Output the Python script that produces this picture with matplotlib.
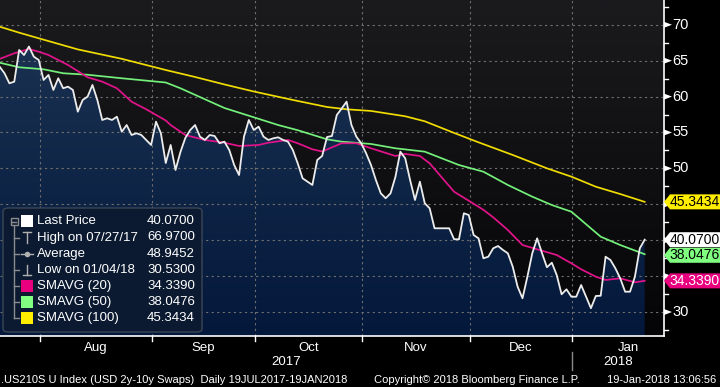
import numpy as np
import pandas as pd
import matplotlib
matplotlib.use("Agg")
import matplotlib.pyplot as plt
from matplotlib.patches import Polygon, FancyBboxPatch, Rectangle
from matplotlib.lines import Line2D
from matplotlib.colors import LinearSegmentedColormap

# ---------------- data ----------------
start_date = "2017-07-19"
end_date = "2018-01-19"

last_price = [
    64.16, 63.25, 61.85, 62.08, 66.49, 65.79, 66.97, 65.56, 65.10, 62.31,
    63.01, 60.92, 62.55, 61.16, 61.38, 60.92, 57.90, 59.53, 59.99, 61.62,
    59.53, 56.74, 56.98, 56.74, 57.20, 55.11, 56.04, 54.65, 54.89, 54.65,
    53.96, 53.26, 56.50, 54.89, 50.75, 53.26, 49.78, 52.28, 54.23, 55.34,
    56.04, 54.42, 53.96, 54.65, 54.51, 53.50, 53.72, 52.56, 50.47, 49.08,
    54.42, 56.74, 55.35, 55.81, 54.42, 53.96, 54.19, 54.33, 53.96, 53.72,
    52.56, 50.71, 48.62, 48.15, 47.69, 51.17, 51.73, 54.37, 54.51, 57.44,
    58.34, 59.29, 56.04, 54.42, 53.50, 52.10, 50.47, 48.38, 46.53, 45.84,
    46.53, 48.84, 52.33, 51.41, 48.38, 45.60, 48.15, 45.14, 44.44, 41.66,
    41.66, 41.66, 41.66, 40.13, 40.13, 43.75, 43.51, 40.72, 40.26, 37.48,
    37.70, 38.87, 39.19, 38.64, 38.18, 36.31, 33.52, 31.91, 34.92, 38.18,
    40.26, 38.18, 36.23, 36.87, 35.15, 32.47, 33.16, 32.13, 32.13, 33.76,
    32.13, 30.53, 32.23, 32.27, 37.70, 37.24, 36.09, 34.69, 32.83, 32.83,
    34.92, 38.87, 40.07,
]

sma20_days = [0, 3, 6, 8, 10, 14, 18, 21, 24, 27, 30, 34, 35, 38, 42, 46, 49, 53, 55, 59,
              61, 64, 66, 70, 73, 76, 81, 83, 86, 88, 93, 96, 99, 101, 104, 107, 110, 114,
              117, 119, 122, 124, 127, 130, 132]
sma20_vals = [65.24, 66.03, 66.63, 66.25, 65.79, 64.40, 62.69, 62.08, 61.16, 59.29, 58.23,
              56.67, 56.04, 54.65, 53.96, 53.58, 53.12, 53.26, 53.58, 53.96, 53.50, 52.66,
              52.35, 53.50, 53.50, 52.80, 51.73, 52.01, 51.73, 50.71, 46.75, 45.50, 44.23,
              43.19, 41.42, 39.33, 38.73, 37.94, 36.78, 35.95, 34.92, 34.46, 34.69, 34.14,
              34.34]

sma50_days = [0, 4, 9, 13, 18, 25, 34, 37, 42, 46, 52, 57, 61, 67, 70, 76, 81, 87, 94, 99,
              104, 109, 113, 117, 123, 127, 132]
sma50_vals = [64.72, 64.08, 63.80, 63.25, 63.04, 62.55, 61.96, 61.16, 59.63, 58.41, 57.12,
              56.04, 55.32, 54.05, 53.72, 53.40, 52.80, 52.33, 50.47, 49.54, 47.69, 46.06,
              44.90, 43.97, 40.49, 39.33, 38.05]

sma100_days = [0, 4, 8, 16, 25, 34, 40, 46, 52, 60, 67, 71, 76, 83, 87, 93, 98, 105, 112,
               117, 122, 127, 132]
sma100_vals = [69.74, 68.90, 68.12, 66.57, 65.26, 63.70, 62.73, 61.69, 60.71, 59.53, 58.55,
               58.23, 58.00, 57.26, 56.56, 54.94, 53.63, 51.87, 50.01, 48.85, 47.45, 46.43,
               45.34]

month_labels = ["Aug", "Sep", "Oct", "Nov", "Dec", "Jan"]
month_starts = ["2017-08-01", "2017-09-01", "2017-10-01", "2017-11-01", "2017-12-01", "2018-01-01"]
year_labels = ["2017", "2018"]
y_ticks = [30, 35, 40, 45, 50, 55, 60, 65, 70]

legend_rows = [
    ("Last Price", "40.0700"),
    ("High on 07/27/17", "66.9700"),
    ("Average", "48.9452"),
    ("Low on 01/04/18", "30.5300"),
    ("SMAVG (20)", "34.3390"),
    ("SMAVG (50)", "38.0476"),
    ("SMAVG (100)", "45.3434"),
]
footer_left = ".US210S U Index (USD 2y-10y Swaps)  Daily 19JUL2017-19JAN2018"
footer_mid = "Copyright\u00a9 2018 Bloomberg Finance L.P."
footer_right = "19-Jan-2018 13:06:56"

# ---------------- styling ----------------
W, H = 720, 387
C_WHITE = "#ececec"
C_MAG = "#e2138a"
C_GREEN = "#74f07a"
C_YEL = "#f0dc00"
C_TAG_GREEN = "#80ff80"
C_TAG_MAG = "#e8007f"
C_TAG_YEL = "#ffee00"
GRID = "#707070"

plt.rcParams["font.family"] = ["Liberation Sans", "DejaVu Sans"]

fig = plt.figure(figsize=(W / 100, H / 100), dpi=100, facecolor="black")

def fx(px):
    return px / W

def fy(py):
    return 1 - py / H

ax_left, ax_right, ax_top, ax_bottom = 0, 663, 0, 336
ax = fig.add_axes([fx(ax_left), fy(ax_bottom), fx(ax_right - ax_left), (ax_bottom - ax_top) / H])
ax.set_facecolor("black")

n = len(last_price)
x = np.arange(n)
xlim = (0.08, 135.75)
ylim = (26.66, 73.45)
ax.set_xlim(*xlim)
ax.set_ylim(*ylim)

# background gradient
bg = np.linspace(0, 1, 256).reshape(-1, 1)
cmap_bg = LinearSegmentedColormap.from_list("bg", ["#1b1b1e", "#050507"])
ax.imshow(bg, extent=[xlim[0], xlim[1], ylim[0], ylim[1]], aspect="auto",
          cmap=cmap_bg, zorder=0, origin="upper")

# fill gradient under price line
fill = ax.fill_between(x, last_price, ylim[0], facecolor="none", edgecolor="none", zorder=1)
cmap_fill = LinearSegmentedColormap.from_list("fl", ["#1a3152", "#03183a"])
im = ax.imshow(bg, extent=[xlim[0], xlim[1], ylim[0], 67.5], aspect="auto",
               cmap=cmap_fill, zorder=1, origin="upper")
im.set_clip_path(fill.get_paths()[0], transform=ax.transData)

# grid
cal_full = pd.bdate_range(start_date, "2018-01-31")
bounds = [int(cal_full.searchsorted(pd.Timestamp(d))) - 0.8 for d in month_starts]
for b in bounds:
    ax.axvline(b, color=GRID, lw=0.8, ls=(0, (2, 3)), zorder=2)
for t in y_ticks:
    ax.axhline(t, color=GRID, lw=0.8, ls=(0, (2, 3)), zorder=2)

# lines
ax.plot(sma100_days, sma100_vals, color=C_YEL, lw=1.25, zorder=3)
ax.plot(sma50_days, sma50_vals, color=C_GREEN, lw=1.25, zorder=3)
ax.plot(sma20_days, sma20_vals, color=C_MAG, lw=1.25, zorder=3)
ax.plot(x, last_price, color=C_WHITE, lw=1.3, zorder=4)

for s in ax.spines.values():
    s.set_visible(False)
ax.set_xticks([])
ax.set_yticks([])

# axis lines (right and bottom)
fig.add_artist(Line2D([fx(0), fx(663.5)], [fy(336), fy(336)], color="white", lw=1.2))
fig.add_artist(Line2D([fx(663.5), fx(663.5)], [fy(0), fy(336)], color="white", lw=1.2))

def val_to_py(v):
    disp = ax.transData.transform((xlim[0], v))
    return H - disp[1]

def idx_to_px(i):
    disp = ax.transData.transform((i, ylim[0]))
    return disp[0]

# value tags on the right axis
tags = [
    (sma100_vals[-1], legend_rows[6][1], C_TAG_YEL, "black"),
    (last_price[-1], legend_rows[0][1], "white", "black"),
    (sma50_vals[-1] - 0.15, legend_rows[5][1], C_TAG_GREEN, "black"),
    (sma20_vals[-1], legend_rows[4][1], C_TAG_MAG, "white"),
]
tag_py = [val_to_py(t[0]) for t in tags]

# right ticks (labels hidden where a value tag covers them)
for t in y_ticks:
    py = val_to_py(t)
    fig.add_artist(Polygon([(fx(664), fy(py - 3)), (fx(664), fy(py + 3)), (fx(672), fy(py))],
                           closed=True, facecolor="white", edgecolor="none"))
    if min(abs(py - tp) for tp in tag_py) > 12:
        fig.text(fx(672.5), fy(py), str(t), color="white", fontsize=10.5, va="center", ha="left")
for t in np.arange(27.5, 73.5, 5):
    py = val_to_py(t)
    fig.add_artist(Line2D([fx(663.5), fx(668)], [fy(py), fy(py)], color="white", lw=1))

def tag(v, text, face, tcolor):
    py = val_to_py(v)
    h = 7.5
    pts = [(664, py), (670, py - h), (720, py - h), (720, py + h), (670, py + h)]
    fig.add_artist(Polygon([(fx(a), fy(b)) for a, b in pts], closed=True,
                           facecolor=face, edgecolor="none", zorder=10))
    fig.text(fx(694.5), fy(py), text, color=tcolor, fontsize=10, ha="center", va="center",
             zorder=11)

for tg in tags:
    tag(*tg)

# month ticks and labels
for b in bounds:
    px = idx_to_px(b)
    fig.add_artist(Line2D([fx(px), fx(px)], [fy(336), fy(341)], color="white", lw=1))
edges = bounds + [len(cal_full) - 0.8]
for i, lab in enumerate(month_labels):
    c = idx_to_px((edges[i] + edges[i + 1]) / 2)
    fig.text(fx(c), fy(348), lab, color="white", fontsize=9.5, ha="center", va="center")
jan_px = idx_to_px(bounds[-1])
fig.text(fx((0 + jan_px) / 2), fy(362), year_labels[0], color="white", fontsize=9.5, ha="center", va="center")
fig.text(fx((jan_px + 663) / 2), fy(362), year_labels[1], color="white", fontsize=9.5, ha="center", va="center")
fig.add_artist(Line2D([fx(jan_px), fx(jan_px)], [fy(352), fy(370)], color="#8a8a8a", lw=1))

# footer
fig.text(fx(1), fy(380), footer_left, color="white", fontsize=8, ha="left", va="center")
fig.text(fx(374), fy(380), footer_mid, color="white", fontsize=8, ha="left", va="center")
fig.text(fx(716), fy(380), footer_right, color="white", fontsize=8, ha="right", va="center")

# legend box
box = FancyBboxPatch((fx(3), fy(332)), fx(199), (332 - 208) / H,
                     boxstyle="round,pad=0,rounding_size=0.008",
                     facecolor="#0b1a31", edgecolor="#3c4656", lw=1,
                     transform=fig.transFigure, zorder=5)
fig.add_artist(box)
row_y = [221, 237.5, 254, 270, 286, 302, 318]
for (lab, val), ry in zip(legend_rows, row_y):
    fig.text(fx(37), fy(ry), lab, color="white", fontsize=9.5, ha="left", va="center", zorder=6)
    fig.text(fx(195), fy(ry), val, color="white", fontsize=9.5, ha="right", va="center", zorder=6)

tree_c = "#8c8c8c"
fig.add_artist(Line2D([fx(14), fx(14)], [fy(225), fy(318)], color=tree_c, lw=1, zorder=6))
for ry in row_y[1:]:
    fig.add_artist(Line2D([fx(14), fx(19)], [fy(ry), fy(ry)], color=tree_c, lw=1, zorder=6))
fig.add_artist(Rectangle((fx(10.5), fy(225)), fx(7), 7 / H, facecolor="#0b1a31",
                         edgecolor=tree_c, lw=1, transform=fig.transFigure, zorder=6))
fig.add_artist(Line2D([fx(12), fx(16)], [fy(221.5), fy(221.5)], color=tree_c, lw=1, zorder=7))

def square(ry, color):
    fig.add_artist(Rectangle((fx(21), fy(ry + 6)), fx(12), 12 / H, facecolor=color,
                             edgecolor="none", transform=fig.transFigure, zorder=6))

square(row_y[0], "white")
square(row_y[4], C_TAG_MAG)
square(row_y[5], C_TAG_GREEN)
square(row_y[6], C_TAG_YEL)
ic = "#b0b0b0"
# high icon
fig.add_artist(Line2D([fx(27), fx(27)], [fy(row_y[1] - 5), fy(row_y[1] + 5)], color=ic, lw=1, zorder=6))
fig.add_artist(Line2D([fx(23), fx(31)], [fy(row_y[1] - 5), fy(row_y[1] - 5)], color=ic, lw=1, zorder=6))
# average icon
fig.add_artist(Line2D([fx(21), fx(33)], [fy(row_y[2]), fy(row_y[2])], color=ic, lw=1, zorder=6))
fig.add_artist(Line2D([fx(27)], [fy(row_y[2])], marker="o", ms=3, color=ic, zorder=6))
# low icon
fig.add_artist(Line2D([fx(27), fx(27)], [fy(row_y[3] - 5), fy(row_y[3] + 5)], color=ic, lw=1, zorder=6))
fig.add_artist(Line2D([fx(23), fx(31)], [fy(row_y[3] + 5), fy(row_y[3] + 5)], color=ic, lw=1, zorder=6))

fig.savefig("out.png", dpi=100, facecolor="black")
